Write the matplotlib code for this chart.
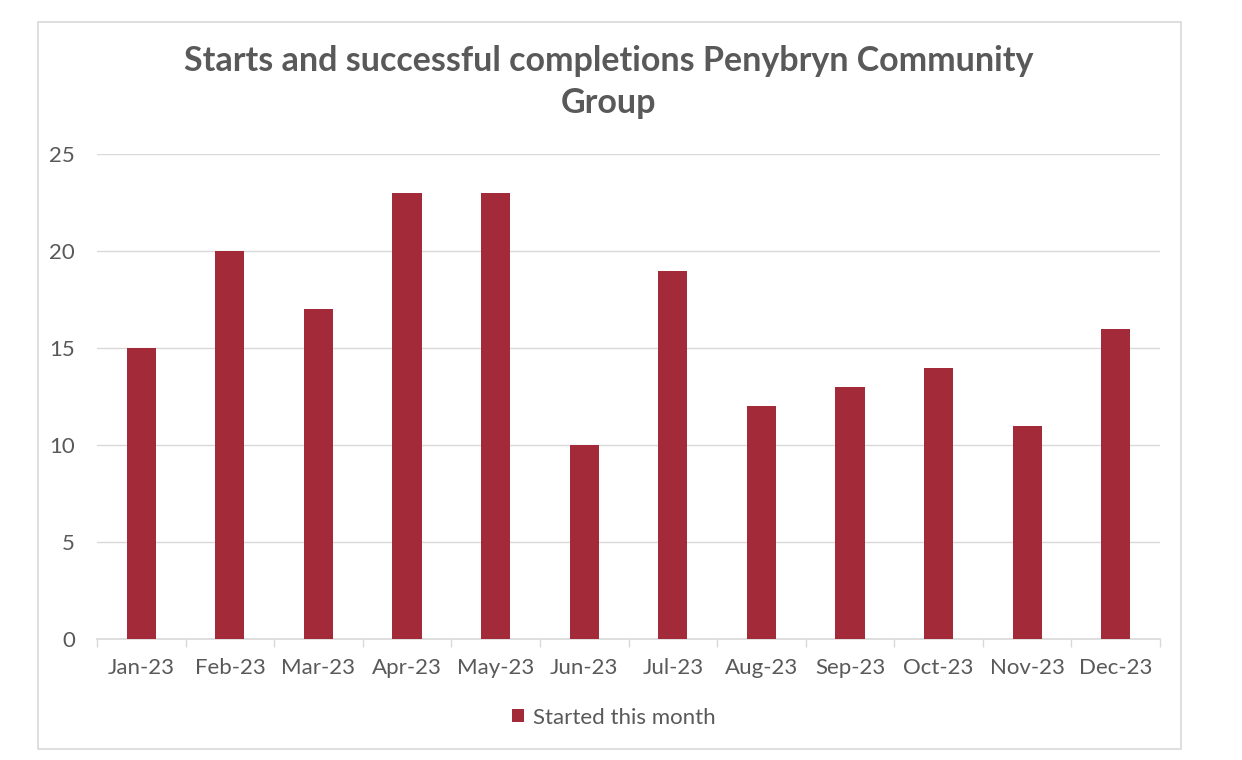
import numpy as np
import matplotlib.pyplot as plt
from matplotlib.patches import Rectangle

months = ["Jan-23", "Feb-23", "Mar-23", "Apr-23", "May-23", "Jun-23",
          "Jul-23", "Aug-23", "Sep-23", "Oct-23", "Nov-23", "Dec-23"]
started = [15, 20, 17, 23, 23, 10, 19, 12, 13, 14, 11, 16]

bar_color = "#A32A38"
text_grey = "#595959"
line_grey = "#D9D9D9"

plt.rcParams["font.family"] = ["Lato", "DejaVu Sans"]

fig = plt.figure(figsize=(12.42, 7.6), dpi=100)
fig.patch.set_facecolor("white")
# outer chart border
fig.patches.append(Rectangle((0.0306, 0.0145), 0.920, 0.9566, transform=fig.transFigure,
                             fill=False, edgecolor=line_grey, linewidth=1.2))

ax = fig.add_axes([0.0781, 0.1592, 0.8559, 0.6378])
x = np.arange(len(months))
ax.bar(x, started, width=0.33, color=bar_color, label="Started this month", zorder=3)

ax.set_xlim(-0.5, len(months) - 0.5)
ax.set_ylim(0, 25)
ax.set_yticks(range(0, 26, 5))
ax.yaxis.grid(True, color=line_grey, linewidth=1, zorder=0)

ax.set_xticks(x)
ax.set_xticklabels(months)
ax.set_xticks(np.arange(-0.5, len(months)), minor=True)
ax.tick_params(axis="x", which="major", length=0, pad=14, labelsize=16, labelcolor=text_grey)
ax.tick_params(axis="x", which="minor", length=6, color=line_grey, width=1)
ax.tick_params(axis="y", length=0, pad=16, labelsize=16, labelcolor=text_grey)

for side in ["top", "right", "left"]:
    ax.spines[side].set_visible(False)
ax.spines["bottom"].set_color(line_grey)
ax.spines["bottom"].set_linewidth(1.2)

fig.text(0.49, 0.892, "Starts and successful completions Penybryn Community\nGroup",
         ha="center", va="center", fontsize=24.5, fontweight="bold", color=text_grey,
         linespacing=1.38)

ax.legend(loc="center", bbox_to_anchor=(0.486, -0.162), frameon=False, fontsize=16,
          labelcolor=text_grey, handlelength=0.55, handleheight=0.55, handletextpad=0.4)

fig.savefig("out.png", dpi=100, facecolor="white")
